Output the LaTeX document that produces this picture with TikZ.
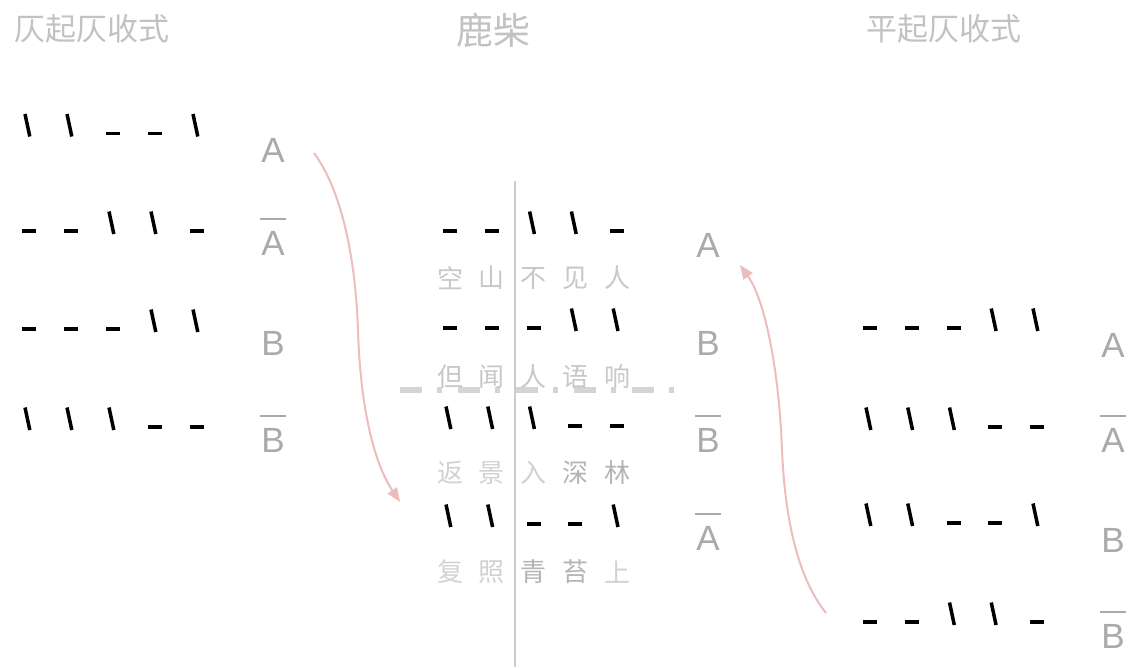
\documentclass[tikz,border=0pt]{standalone}
\usepackage{fontspec}
\setmainfont{Liberation Sans}
\newfontfamily\cjk{Noto Sans CJK SC}
\usetikzlibrary{arrows.meta}
\definecolor{lblc}{HTML}{AAAAAA}
\definecolor{ttlc}{HTML}{C2C2C2}
\definecolor{chmid}{HTML}{C8C8C8}
\definecolor{chlt}{HTML}{D2D2D2}
\definecolor{chdk}{HTML}{B4B4B4}
\definecolor{axisc}{HTML}{CCCCCC}
\definecolor{dashc}{HTML}{D4D4D4}
\definecolor{pinkc}{HTML}{EBBDBD}
\newcommand\obar[1]{\setbox0=\hbox{#1}\vbox{\offinterlineskip\hbox to \wd0{\hss\vrule width \dimexpr\wd0+2pt\relax height 1.7pt depth 0pt\hss}\kern 11pt\box0}}
\newcommand\tonerow[4]{%
  \foreach \t [count=\i from 0] in {#4}{%
    \pgfmathsetmacro\xx{#1+\i*#3}%
    \if\t z\draw[zestroke] (\xx-4,#2-19.5) -- (\xx+0.8,#2+3);%
    \else\draw[pingstroke] (\xx-7,#2) -- (\xx+7,#2);\fi}}
\newcommand\charrow[3]{%
  \foreach \ch/\co [count=\i from 0] in {#3}{%
    \node[hanzi,text=\co] (h#2\i) at ({450+41.8*\i},#1) {\ch};}}
\begin{document}
\begin{tikzpicture}[x=1pt,y=-1pt,
  zestroke/.style={line width=3.5pt},
  pingstroke/.style={line width=3.9pt},
  lbl/.style={text=lblc,font=\fontsize{35}{40}\selectfont,inner sep=0pt,anchor=base},
  ttl/.style={text=ttlc,font=\cjk\fontsize{31}{36}\selectfont,inner sep=0pt},
  hanzi/.style={font=\cjk\fontsize{26}{30}\selectfont,inner sep=0pt},
  arr/.style={draw=pinkc,line width=2pt,-{Triangle[length=14pt,width=11pt]}},
  axis/.style={draw=axisc,line width=2pt},
  midline/.style={draw=dashc,line width=6pt,dash pattern=on 22pt off 15pt on 5pt off 16pt}
]
\fill[white] (0,0) rectangle (1134,667);
\useasboundingbox (0,0) rectangle (1134,667);

% titles
\node[ttl] (t1) at (91.5,29) {仄起仄收式};
\node[ttl,font=\cjk\fontsize{37}{42}\selectfont] (t2) at (493,30) {鹿柴};
\node[ttl] (t3) at (944,29) {平起仄收式};

% axis and dashed line
\coordinate (vtop) at (515,181);
\coordinate (vbot) at (515,667);
\draw[axis] (vtop) -- (vbot);
\coordinate (dl1) at (400,390);
\coordinate (dl2) at (674,390);
\draw[midline] (dl1) -- (dl2);

% left column
\tonerow{29}{133.5}{42}{z,z,p,p,z}
\tonerow{29}{231}{42}{p,p,z,z,p}
\tonerow{29}{329}{42}{p,p,p,z,z}
\tonerow{29}{427}{42}{z,z,z,p,p}
\node[lbl] (lA) at (273,162) {A};
\node[lbl] (lAb) at (273,255) {\obar{A}};
\node[lbl] (lB) at (273,355) {B};
\node[lbl] (lBb) at (273,452) {\obar{B}};

% centre column
\tonerow{450}{231}{41.8}{p,p,z,z,p}
\tonerow{450}{328}{41.8}{p,p,p,z,z}
\tonerow{450}{426}{41.8}{z,z,z,p,p}
\tonerow{450}{524}{41.8}{z,z,p,p,z}
\charrow{278}{a}{空/chmid,山/chmid,不/chmid,见/chmid,人/chmid}
\charrow{377}{b}{但/chmid,闻/chmid,人/chmid,语/chmid,响/chmid}
\charrow{473}{c}{返/chlt,景/chlt,入/chlt,深/chdk,林/chdk}
\charrow{572}{d}{复/chlt,照/chlt,青/chdk,苔/chdk,上/chlt}
\node[lbl] (cA) at (708,257) {A};
\node[lbl] (cB) at (708,355) {B};
\node[lbl] (cBb) at (708,452) {\obar{B}};
\node[lbl] (cAb) at (708,550) {\obar{A}};

% right column
\tonerow{870}{328}{41.75}{p,p,p,z,z}
\tonerow{870}{427}{41.75}{z,z,z,p,p}
\tonerow{870}{523}{41.75}{z,z,p,p,z}
\tonerow{870}{622}{41.75}{p,p,z,z,p}
\node[lbl] (rA) at (1113,357) {A};
\node[lbl] (rAb) at (1113,452) {\obar{A}};
\node[lbl] (rB) at (1113,552) {B};
\node[lbl] (rBb) at (1113,648) {\obar{B}};

% arrows
\coordinate (a1s) at (314,153);
\coordinate (a1e) at (400,502);
\draw[arr] (a1s) .. controls (345,195) and (356,270) .. (358,330) .. controls (360,400) and (372,460) .. (a1e);
\coordinate (a2s) at (826,613);
\coordinate (a2e) at (740,265);
\draw[arr] (a2s) .. controls (798,578) and (785,520) .. (782,450) .. controls (779,370) and (765,300) .. (a2e);
\end{tikzpicture}
\end{document}
